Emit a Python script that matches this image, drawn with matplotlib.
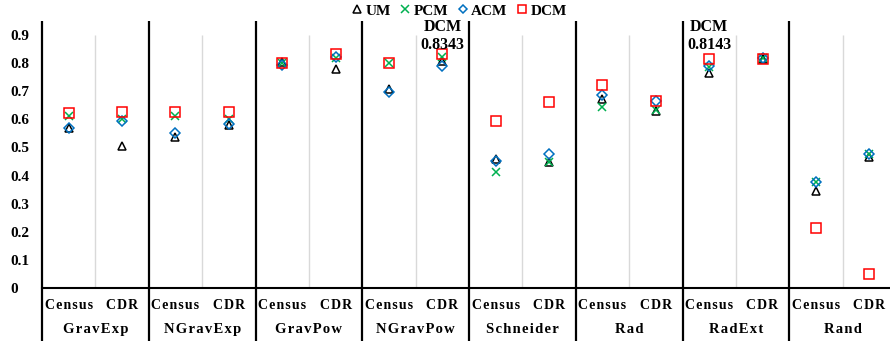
import numpy as np
import matplotlib
matplotlib.use("Agg")
from matplotlib import pyplot as plt
from matplotlib.transforms import blended_transform_factory

plt.rcParams["font.family"] = ["Liberation Serif", "DejaVu Serif"]
plt.rcParams["font.weight"] = "bold"

groups = ["GravExp", "NGravExp", "GravPow", "NGravPow", "Schneider", "Rad", "RadExt", "Rand"]
sources = ["Census", "CDR"]

# one value per (group, source), Census first
um = [0.568, 0.505, 0.538, 0.580, 0.805, 0.779, 0.708, 0.809,
      0.458, 0.447, 0.671, 0.630, 0.764, 0.815, 0.345, 0.465]
pcm = [0.612, 0.600, 0.612, 0.601, 0.800, 0.818, 0.800, 0.821,
       0.413, 0.447, 0.645, 0.633, 0.785, 0.820, 0.377, 0.477]
acm = [0.570, 0.595, 0.550, 0.584, 0.795, 0.823, 0.696, 0.791,
       0.451, 0.478, 0.687, 0.665, 0.791, 0.820, 0.377, 0.477]
dcm = [0.624, 0.625, 0.625, 0.625, 0.800, 0.833, 0.800, 0.8343,
       0.595, 0.661, 0.724, 0.665, 0.8143, 0.815, 0.212, 0.050]

highlights = [7, 12]  # DCM points that get a value label


def spaced(s):
    # widen the axis labels a little
    return "\u200a".join(s)


fig = plt.figure(figsize=(8.9, 3.41), dpi=100)
ax = fig.add_axes([42 / 890, 53 / 341, 854 / 890, 267 / 341])

x = np.arange(len(dcm))
ax.plot(x, um, ls="none", marker="^", ms=6, mfc="white", mec="black", mew=1.1, label="UM")
ax.plot(x, pcm, ls="none", marker="x", ms=6, mec="#00B050", mew=1.1, label="PCM")
ax.plot(x, acm, ls="none", marker="D", ms=5, mfc="none", mec="#0070C0", mew=1.1, label="ACM")
ax.plot(x, dcm, ls="none", marker="s", ms=7.5, mfc="none", mec="#FF0000", mew=1.1, label="DCM")

for i in highlights:
    ax.text(x[i], 0.898, f"DCM\n{dcm[i]:.4f}", ha="center", va="center",
            fontsize=11.5, linespacing=1.15, clip_on=False)

ax.set_xlim(-0.5, len(dcm) - 0.5)
ax.set_ylim(0, 0.95)
ax.set_yticks(np.arange(0, 0.91, 0.1))
ax.set_yticklabels(["0"] + [f"{v:.1f}" for v in np.arange(0.1, 0.91, 0.1)])
ax.tick_params(axis="y", length=0, pad=22.5, labelsize=11)
for lab in ax.get_yticklabels():
    lab.set_horizontalalignment("left")
ax.set_xticks([])

for s in ["top", "right", "left"]:
    ax.spines[s].set_visible(False)
ax.spines["bottom"].set_linewidth(1.5)

trans = blended_transform_factory(ax.transData, ax.transAxes)

# light lines between Census and CDR inside a group
for g in range(len(groups)):
    ax.vlines(2 * g + 0.5, 0, 0.9, color="#d9d9d9", lw=1, zorder=0)

# heavy separators between groups, running down through the labels
for g in range(len(groups) + 1):
    ax.vlines(2 * g - 0.5, -0.21, 1.0, color="black", lw=1.6, transform=trans, clip_on=False)

for g, name in enumerate(groups):
    for k, src in enumerate(sources):
        ax.text(2 * g + k, -0.064, spaced(src), transform=trans, ha="center", va="center", fontsize=10)
    ax.text(2 * g + 0.5, -0.157, spaced(name), transform=trans, ha="center", va="center", fontsize=10.5)

fig.legend(loc="center", bbox_to_anchor=(0.516, 0.968), ncol=4, frameon=False,
           handlelength=0.7, handletextpad=0.2, columnspacing=0.6, fontsize=11,
           borderaxespad=0, borderpad=0, markerscale=0.85)

fig.savefig("out.png", dpi=100)
